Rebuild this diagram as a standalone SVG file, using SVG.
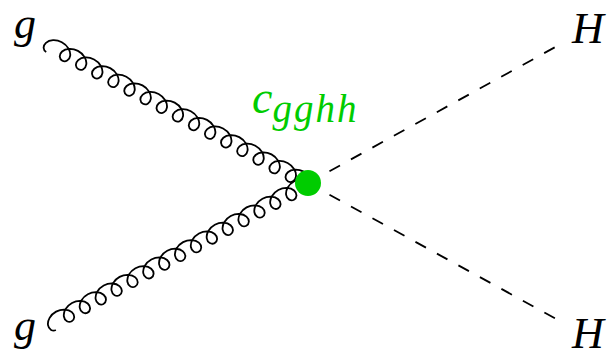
<svg xmlns="http://www.w3.org/2000/svg" width="610" height="351" viewBox="0 0 610 351">
<style>
.gl{fill:none;stroke:#000;stroke-width:1.8;vector-effect:non-scaling-stroke}
.ds{fill:none;stroke:#000;stroke-width:1.8;stroke-dasharray:12,12.5}
.lb{font-family:"Liberation Serif",serif;font-style:italic;font-size:44px;fill:#000}
.cg{font-family:"Liberation Serif",serif;font-style:italic;font-size:46px;fill:#00cc00}
.sub{font-family:"Liberation Serif",serif;font-style:italic;font-size:39px}
</style>
<defs>
<path id="coil" d="M0,8 c-3.38,0 -6.08,-3.6 -4.51,-8 c1.57,-4.4 6.97,-8 13.49,-8 c6.52,0 11.92,3.6 13.49,8 c1.57,4.4 -1.12,8 -4.5,8 c-3.38,0 -6.08,-3.6 -4.51,-8 c1.57,-4.4 6.97,-8 13.49,-8 c6.52,0 11.92,3.6 13.49,8 c1.57,4.4 -1.12,8 -4.5,8 c-3.38,0 -6.08,-3.6 -4.51,-8 c1.57,-4.4 6.97,-8 13.49,-8 c6.52,0 11.92,3.6 13.49,8 c1.57,4.4 -1.12,8 -4.5,8 c-3.38,0 -6.08,-3.6 -4.51,-8 c1.57,-4.4 6.97,-8 13.49,-8 c6.52,0 11.92,3.6 13.49,8 c1.57,4.4 -1.12,8 -4.5,8 c-3.38,0 -6.08,-3.6 -4.51,-8 c1.57,-4.4 6.97,-8 13.49,-8 c6.52,0 11.92,3.6 13.49,8 c1.57,4.4 -1.12,8 -4.5,8 c-3.38,0 -6.08,-3.6 -4.51,-8 c1.57,-4.4 6.97,-8 13.49,-8 c6.52,0 11.92,3.6 13.49,8 c1.57,4.4 -1.12,8 -4.5,8 c-3.38,0 -6.08,-3.6 -4.51,-8 c1.57,-4.4 6.97,-8 13.49,-8 c6.52,0 11.92,3.6 13.49,8 c1.57,4.4 -1.12,8 -4.5,8 c-3.38,0 -6.08,-3.6 -4.51,-8 c1.57,-4.4 6.97,-8 13.49,-8 c6.52,0 11.92,3.6 13.49,8 c1.57,4.4 -1.12,8 -4.5,8 c-3.38,0 -6.08,-3.6 -4.51,-8 c1.57,-4.4 6.97,-8 13.49,-8 c6.52,0 11.92,3.6 13.49,8 c1.57,4.4 -1.12,8 -4.5,8 c-3.38,0 -6.08,-3.6 -4.51,-8 c1.57,-4.4 6.97,-8 13.49,-8 c6.52,0 11.92,3.6 13.49,8 c1.57,4.4 -1.12,8 -4.5,8 c-3.38,0 -6.08,-3.6 -4.51,-8 c1.57,-4.4 6.97,-8 13.49,-8 c6.52,0 11.92,3.6 13.49,8 c1.57,4.4 -1.12,8 -4.5,8 c-3.38,0 -6.08,-3.6 -4.51,-8 c1.57,-4.4 6.97,-8 13.49,-8 c6.52,0 11.92,3.6 13.49,8 c1.57,4.4 -1.12,8 -4.5,8 c-3.38,0 -6.08,-3.6 -4.51,-8 c1.57,-4.4 6.97,-8 13.49,-8 c6.52,0 11.92,3.6 13.49,8 c1.57,4.4 -1.12,8 -4.5,8 c-3.38,0 -6.08,-3.6 -4.51,-8 c1.57,-4.4 6.97,-8 13.49,-8 c6.52,0 11.92,3.6 13.49,8 c1.57,4.4 -1.12,8 -4.5,8 c-3.38,0 -6.08,-3.6 -4.51,-8 c1.57,-4.4 6.97,-8 13.49,-8 c6.52,0 11.92,3.6 13.49,8 c1.57,4.4 -1.12,8 -4.5,8 c-3.38,0 -6.08,-3.6 -4.51,-8 c1.57,-4.4 6.97,-8 13.49,-8 c6.52,0 11.92,3.6 13.49,8 c1.57,4.4 -1.12,8 -4.5,8"/>
</defs>
<g id="connectors">
<use href="#coil" class="gl" transform="translate(50,45) rotate(28.14) scale(1.0177,1)"/>
<use href="#coil" class="gl" transform="translate(52,323) rotate(-28.69) scale(1.007,1)"/>
<line class="ds" x1="308" y1="183" x2="559" y2="45"/>
<line class="ds" x1="308" y1="183" x2="560" y2="321"/>
</g>
<g id="vertex">
<circle cx="308" cy="183" r="13" fill="#00cc00"/>
<text class="cg" x="252" y="113">c<tspan class="sub" dy="9" textLength="84">gghh</tspan></text>
</g>
<g id="g1"><text class="lb" x="14" y="38">g</text></g>
<g id="g2"><text class="lb" x="14" y="340">g</text></g>
<g id="H1"><text class="lb" x="572" y="43">H</text></g>
<g id="H2"><text class="lb" x="572" y="348">H</text></g>
</svg>
